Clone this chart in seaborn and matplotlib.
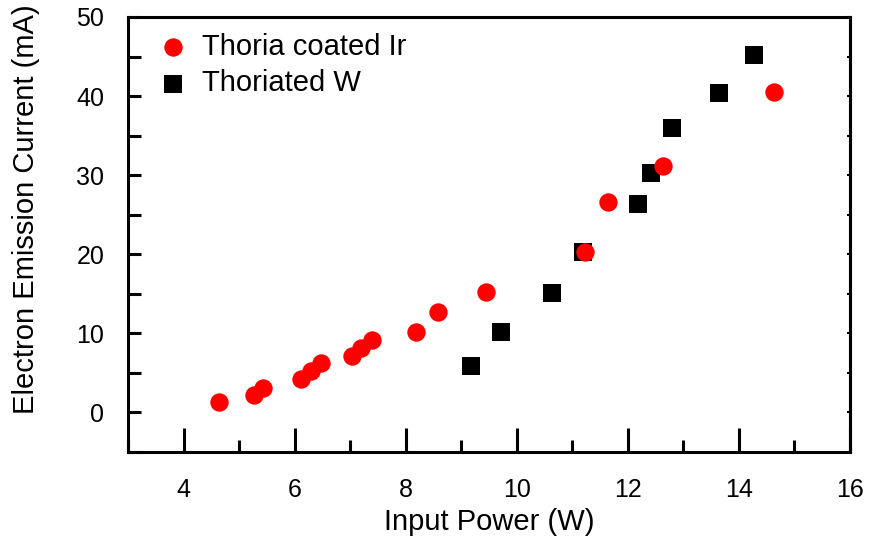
import pandas as pd
import numpy as np
import matplotlib
matplotlib.use("Agg")
import matplotlib.pyplot as plt
import seaborn as sns
from matplotlib.ticker import MultipleLocator

# Thoria coated Ir
ir_power = [4.64, 5.27, 5.43, 6.12, 6.30, 6.48, 7.04, 7.20, 7.40, 8.19, 8.59, 9.45, 11.22, 11.65, 12.64, 14.64]
ir_current = [1.3, 2.2, 3.1, 4.2, 5.2, 6.3, 7.1, 8.2, 9.2, 10.2, 12.7, 15.2, 20.3, 26.6, 31.2, 40.5]

# Thoriated W
w_power = [9.18, 9.72, 10.64, 11.20, 12.19, 12.41, 12.80, 13.65, 14.28]
w_current = [5.9, 10.2, 15.1, 20.3, 26.4, 30.3, 36.0, 40.4, 45.2]

sns.set_style("ticks")
plt.rcParams['font.family'] = ['Liberation Sans', 'DejaVu Sans']
plt.rcParams['text.color'] = 'black'
plt.rcParams['axes.labelcolor'] = 'black'
plt.rcParams['xtick.color'] = 'black'
plt.rcParams['ytick.color'] = 'black'

fig = plt.figure(figsize=(8.69, 5.46), dpi=100)
ax = fig.add_axes([0.1473, 0.1722, 0.8308, 0.7967])

sns.scatterplot(x=ir_power, y=ir_current, ax=ax, color='#ff0000', marker='o',
                s=175, linewidth=0, label='Thoria coated Ir', zorder=3)
sns.scatterplot(x=w_power, y=w_current, ax=ax, color='black', marker='s',
                s=150, linewidth=0, label='Thoriated W', zorder=2)

ax.set_xlim(3, 16)
ax.set_ylim(-5, 50)
ax.set_xticks([4, 6, 8, 10, 12, 14, 16])
ax.xaxis.set_minor_locator(MultipleLocator(1))
ax.yaxis.set_major_locator(MultipleLocator(10))
ax.yaxis.set_minor_locator(MultipleLocator(5))

for sp in ax.spines.values():
    sp.set_linewidth(2.2)
    sp.set_color('black')

ax.tick_params(axis='x', which='major', direction='in', length=17, width=2.2, pad=19, labelsize=18)
ax.tick_params(axis='x', which='minor', direction='in', length=9, width=2.2)
ax.tick_params(axis='y', which='both', direction='in', length=9, width=2.2)
ax.tick_params(axis='y', which='major', pad=17, labelsize=18)

# short ticks on the right spine
ax_r = ax.secondary_yaxis('right')
ax_r.yaxis.set_major_locator(MultipleLocator(5))
ax_r.tick_params(direction='in', length=2.5, width=1.5, labelright=False)
ax_r.spines['right'].set_linewidth(2.2)

ax.set_xlabel('Input Power (W)', fontsize=21, labelpad=4)
ax.set_ylabel('Electron Emission Current (mA)', fontsize=21)
ax.yaxis.set_label_coords(-0.122, 0.559)

ax.legend(loc='upper left', bbox_to_anchor=(0.026, 0.99), frameon=False,
          fontsize=21, handlelength=1.0, handletextpad=0.5, labelspacing=0.28,
          borderaxespad=0)

fig.savefig('out.png', dpi=100)
